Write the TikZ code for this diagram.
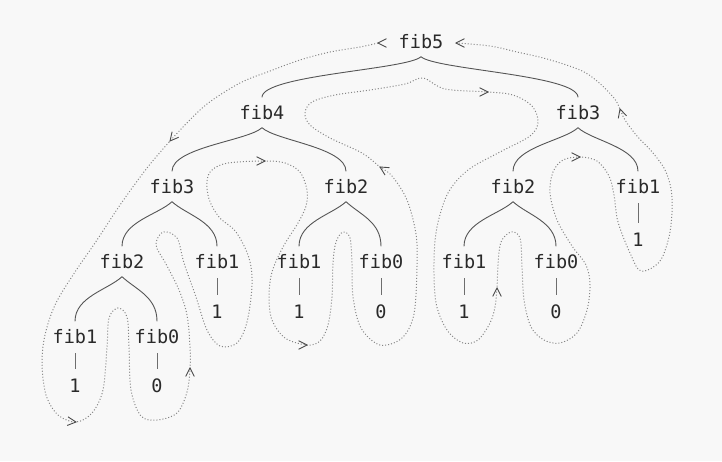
\documentclass[tikz,border=0pt]{standalone}
\usepackage{fontspec}
\newfontfamily\treefont{DejaVu Sans Mono}
\usetikzlibrary{calc}
\definecolor{bg}{HTML}{F8F8F8}
\definecolor{ink}{HTML}{2A2A2A}
\definecolor{branchcol}{HTML}{555555}
\definecolor{tourcol}{HTML}{858585}
\definecolor{tipcol}{HTML}{4A4A4A}

\tikzset{
  lbl/.style={font=\treefont\fontsize{18.5pt}{20pt}\selectfont, text=ink,
    inner xsep=2pt, inner ysep=8pt, text height=14pt, text depth=0pt, anchor=base},
  branch/.style={draw=branchcol, line width=0.9pt},
  stem/.style={draw=branchcol!85, line width=1pt, shorten <=1.5pt, shorten >=1.5pt},
  tour/.style={draw=tourcol, line width=1pt, dash pattern=on 1pt off 2pt},
  chevron/.style={draw=tipcol, line width=0.9pt},
}

% curly branch from the bottom of a parent to the top of a child (#3 = -1 left, 1 right)
\newcommand\branchto[3]{%
  \path (#1.south) coordinate (c0) (#2.north) coordinate (c1)
        ($(c0)!0.45!(c1)$) coordinate (cm);
  \draw[branch] (c0) .. controls ($(c0)+(#3*14,13)$) and (c1 |- cm) .. (c1);
}
% open arrow head at #1, pointing away from #2
\newcommand\chev[2]{%
  \draw[chevron] ($(#1)!9.5pt!27:(#2)$) -- (#1) -- ($(#1)!9.5pt!-27:(#2)$);
}

\begin{document}
\begin{tikzpicture}[x=1pt,y=-1pt]
\fill[bg] (0,0) rectangle (722,461);
\useasboundingbox (0,0) rectangle (722,461);

% calls
\node[lbl] (n5)  at (421,48.5)  {fib5};
\node[lbl] (n4)  at (262,119.5) {fib4};
\node[lbl] (n3r) at (578,119.5) {fib3};
\node[lbl] (n3l) at (172,193.5) {fib3};
\node[lbl] (n2m) at (346,193.5) {fib2};
\node[lbl] (n2r) at (513,193.5) {fib2};
\node[lbl] (n1r) at (638,193.5) {fib1};
\node[lbl] (n2l) at (122,268.5) {fib2};
\node[lbl] (n1a) at (217,268.5) {fib1};
\node[lbl] (n1b) at (299,268.5) {fib1};
\node[lbl] (n0b) at (381,268.5) {fib0};
\node[lbl] (n1c) at (464,268.5) {fib1};
\node[lbl] (n0c) at (556,268.5) {fib0};
\node[lbl] (n1d) at (75,343.5)  {fib1};
\node[lbl] (n0d) at (157,343.5) {fib0};

% returned values
\node[lbl] (v1r) at (638,246.5) {1};
\node[lbl] (v1a) at (217,318.5) {1};
\node[lbl] (v1b) at (299,318.5) {1};
\node[lbl] (v0b) at (381,318.5) {0};
\node[lbl] (v1c) at (464,318.5) {1};
\node[lbl] (v0c) at (556,318.5) {0};
\node[lbl] (v1d) at (75,392.5)  {1};
\node[lbl] (v0d) at (157,392.5) {0};

% branches
\branchto{n5}{n4}{-1}  \branchto{n5}{n3r}{1}
\branchto{n4}{n3l}{-1} \branchto{n4}{n2m}{1}
\branchto{n3r}{n2r}{-1} \branchto{n3r}{n1r}{1}
\branchto{n3l}{n2l}{-1} \branchto{n3l}{n1a}{1}
\branchto{n2m}{n1b}{-1} \branchto{n2m}{n0b}{1}
\branchto{n2r}{n1c}{-1} \branchto{n2r}{n0c}{1}
\branchto{n2l}{n1d}{-1} \branchto{n2l}{n0d}{1}

% leaves to their values
\foreach \a/\b in {n1r/v1r, n1a/v1a, n1b/v1b, n0b/v0b, n1c/v1c, n0c/v0c, n1d/v1d, n0d/v0d}
  \draw[stem] (\a.south) -- (\b.north);

% evaluation order
\draw[tour] plot[smooth, tension=0.55] coordinates {
 (378,43) (360,47) (330,52) (300,60) (270,71) (240,83) (207,104) (182,128)
 (170,141) (147,168) (120,205) (97,240) (73,275) (55,305) (45,335) (42,363)
 (46,395) (58,415) (76,422) (92,413) (103,390) (107,347) (109,318) (118,308)
 (127,317) (129,347) (131,390) (141,416) (157,420) (177,413) (187,392)
 (190,368) (190,347) (187,315) (179,290) (166,264) (156,245) (163,232)
 (177,238) (184,263) (196,297) (207,330) (220,346) (237,343) (247,322)
 (252,285) (249,258) (236,232) (219,217) (209,199) (207,181) (212,170)
 (228,163) (265,161) (285,163) (300,172) (307,190) (306,206) (298,223)
 (283,247) (272,272) (269,297) (272,320) (285,338) (307,345) (320,341)
 (328,325) (332,297) (333,263) (336,242) (343,232) (350,238) (352,263)
 (353,297) (361,328) (380,345) (402,338) (414,314) (417,266) (416,234)
 (407,200) (392,176) (380,167) (362,153) (330,138) (310,125) (305,113)
 (312,102) (335,95) (370,90) (405,84) (423,78) (445,89) (488,92) (513,95)
 (532,106) (538,122) (530,136) (500,152) (468,170) (448,193) (437,227)
 (434,262) (436,303) (447,330) (463,343) (478,340) (490,323) (495,307)
 (497,288) (498,265) (501,242) (511,232) (520,238) (522,267) (524,300)
 (531,327) (544,340) (560,343) (577,333) (587,310) (590,285) (586,265)
 (572,246) (557,220) (550,193) (553,172) (563,160) (580,157) (597,161)
 (609,176) (614,195) (618,222) (630,253) (641,271) (660,261) (670,232)
 (672,197) (666,172) (653,153) (637,136) (625,120) (620,109) (614,98)
 (597,81) (580,70) (547,59) (517,52) (490,46) (456,43)
};

% direction marks
\chev{378,43}{390,43}
\chev{170,141}{180,129}
\chev{76,422}{66,421}
\chev{190,368}{190,380}
\chev{265,161}{255,161}
\chev{307,345}{297,345}
\chev{380,167}{390,173}
\chev{488,92}{478,92}
\chev{497,288}{497,298}
\chev{580,157}{570,157}
\chev{620,109}{623,119}
\chev{456,43}{466,43}
\end{tikzpicture}
\end{document}
